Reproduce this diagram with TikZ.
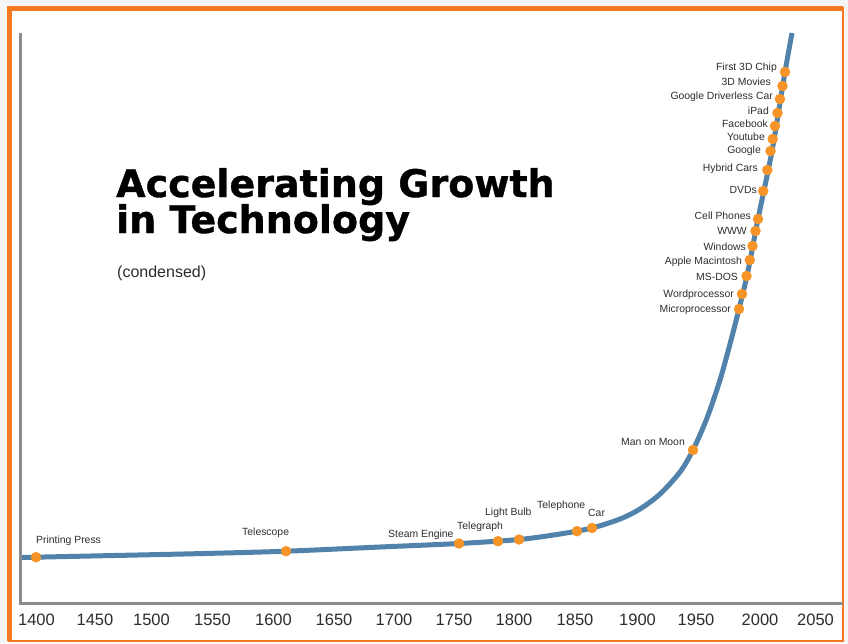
\documentclass[tikz,border=0pt]{standalone}
\usepackage{fontspec}
\setmainfont{Liberation Sans}
\newfontfamily\titlefont{DejaVu Sans}[BoldFeatures={FakeBold=1}]
\definecolor{frameorange}{RGB}{244,121,32}
\definecolor{dotorange}{RGB}{247,148,40}
\definecolor{curveblue}{RGB}{80,130,172}
\definecolor{axisgray}{RGB}{140,140,140}
\definecolor{bggray}{RGB}{246,246,246}
\definecolor{labeltext}{RGB}{45,45,45}
\begin{document}
\begin{tikzpicture}[x=1pt,y=-1pt,
  lbl/.style={font=\fontsize{10.4}{12}\selectfont, text=labeltext, inner sep=0pt},
  lbleast/.style={lbl, anchor=base east},
  lblwest/.style={lbl, anchor=base west},
  ticklbl/.style={font=\fontsize{16.5}{18}\selectfont, text=labeltext, inner sep=0pt, anchor=base},
  dot/.style={circle, fill=dotorange, minimum size=10.5pt, inner sep=0pt},
  curve/.style={curveblue, line width=5pt},
  axis/.style={axisgray, line width=3.5pt, line join=miter}]
\useasboundingbox (0,0) rectangle (848,643);
\fill[bggray] (0,0) rectangle (848,643);
\fill[white] (9,9) rectangle (843,641);
% frame
\draw[frameorange, line width=2.5pt] (9,8.5) rectangle (843,641.2);
\draw[frameorange, line width=5pt] (9,641.2) -- (9,8.5) -- (843,8.5);
% curve anchor points
\coordinate (c0) at (21,557.5);
\coordinate (c1) at (100,555.8);
\coordinate (c2) at (200,553.6);
\coordinate (tel) at (286,551.2);
\coordinate (c3) at (380,547);
\coordinate (se) at (459,543.5);
\coordinate (lb) at (519,539.5);
\coordinate (c4) at (560,534);
\coordinate (car) at (592,528);
\coordinate (c5) at (620,519);
\coordinate (c6) at (640,509);
\coordinate (c7) at (660,494);
\coordinate (c8) at (680,472);
\coordinate (moon) at (693,450);
\coordinate (c9) at (707,418);
\coordinate (c10) at (720,380);
\coordinate (c11) at (730,344);
\coordinate (micro) at (739,309);
\coordinate (c12) at (748,271);
\coordinate (cell) at (758,219);
\coordinate (c13) at (772,151);
\coordinate (chip) at (785,72);
\coordinate (ctop) at (792,33);
\draw[curve] plot[smooth, tension=0.5] coordinates {(c0) (c1) (c2) (tel) (c3) (se) (lb) (c4) (car) (c5) (c6) (c7) (c8) (moon) (c9) (c10) (c11) (micro) (c12) (cell) (c13) (chip) (ctop)};
% axes
\coordinate (axtop) at (20.3,33);
\coordinate (axorigin) at (20.3,603.3);
\coordinate (axright) at (843,603.3);
\draw[axis] (axtop) -- (axorigin) -- (axright);
% tick labels
\foreach \yr/\xx in {1400/36.5,1450/95,1500/151.5,1550/212.5,1600/273.5,1650/334,1700/394,1750/454,1800/514,1850/575,1900/637.5,1950/696,2000/760,2050/815.5}
  \node[ticklbl] (t\yr) at (\xx,625) {\yr};
% dots
\node[dot] (dpp) at (36,557.2) {};
\foreach \n in {tel,se,lb,car,moon,micro,cell,chip}
  \node[dot] (d\n) at (\n) {};
\node[dot] (dtg) at (498,541.2) {};
\node[dot] (dtp) at (577,531.2) {};
\node[dot] (dword) at (742,294) {};
\node[dot] (dmsdos) at (746.5,276) {};
\node[dot] (dapple) at (749.8,260) {};
\node[dot] (dwin) at (752.5,246) {};
\node[dot] (dwww) at (755.5,231) {};
\node[dot] (ddvd) at (763.2,191) {};
\node[dot] (dhybrid) at (767.3,170) {};
\node[dot] (dgoogle) at (770.5,151) {};
\node[dot] (dyoutube) at (772.7,139) {};
\node[dot] (dfacebook) at (775,126) {};
\node[dot] (dipad) at (777.5,113) {};
\node[dot] (ddriver) at (780,99) {};
\node[dot] (dmovies) at (782.5,86) {};
% labels upper
\node[lbleast] (lchip) at (777,70.7) {First 3D Chip};
\node[lbleast] (lmovies) at (771,85.5) {3D Movies};
\node[lbleast] (ldriver) at (773,99) {Google Driverless Car};
\node[lbleast] (lipad) at (769,114) {iPad};
\node[lbleast] (lfacebook) at (768,127) {Facebook};
\node[lbleast] (lyoutube) at (765,140.5) {Youtube};
\node[lbleast] (lgoogle) at (761,153) {Google};
\node[lbleast] (lhybrid) at (758,171.5) {Hybrid Cars};
\node[lbleast] (ldvd) at (757,193) {DVDs};
\node[lbleast] (lcell) at (751,219.3) {Cell Phones};
\node[lbleast] (lwww) at (747,234.5) {WWW};
\node[lbleast] (lwin) at (746,250) {Windows};
\node[lbleast] (lapple) at (742,264.5) {Apple Macintosh};
\node[lbleast] (lmsdos) at (738,280.5) {MS-DOS};
\node[lbleast] (lword) at (734,297.5) {Wordprocessor};
\node[lbleast] (lmicro) at (731,312) {Microprocessor};
% labels lower
\node[lblwest] (lpp) at (36,543) {Printing Press};
\node[lblwest] (ltel) at (242,535.5) {Telescope};
\node[lblwest] (lse) at (388,537.5) {Steam Engine};
\node[lblwest] (ltg) at (457,529.5) {Telegraph};
\node[lblwest] (llb) at (485,515.5) {Light Bulb};
\node[lblwest] (ltp) at (537,508) {Telephone};
\node[lblwest] (lcar) at (588,516.5) {Car};
\node[lblwest] (lmoon) at (621,445.5) {Man on Moon};
% title
\node[anchor=base west, inner sep=0pt, font=\titlefont\bfseries\fontsize{38}{38}\selectfont, text=black] (title1) at (116,197) {Accelerating Growth};
\node[anchor=base west, inner sep=0pt, font=\titlefont\bfseries\fontsize{38}{38}\selectfont, text=black] (title2) at (116,233) {in Technology};
\node[anchor=base west, inner sep=0pt, font=\fontsize{16}{18}\selectfont, text=labeltext] (subtitle) at (117,277) {(condensed)};
\end{tikzpicture}
\end{document}
